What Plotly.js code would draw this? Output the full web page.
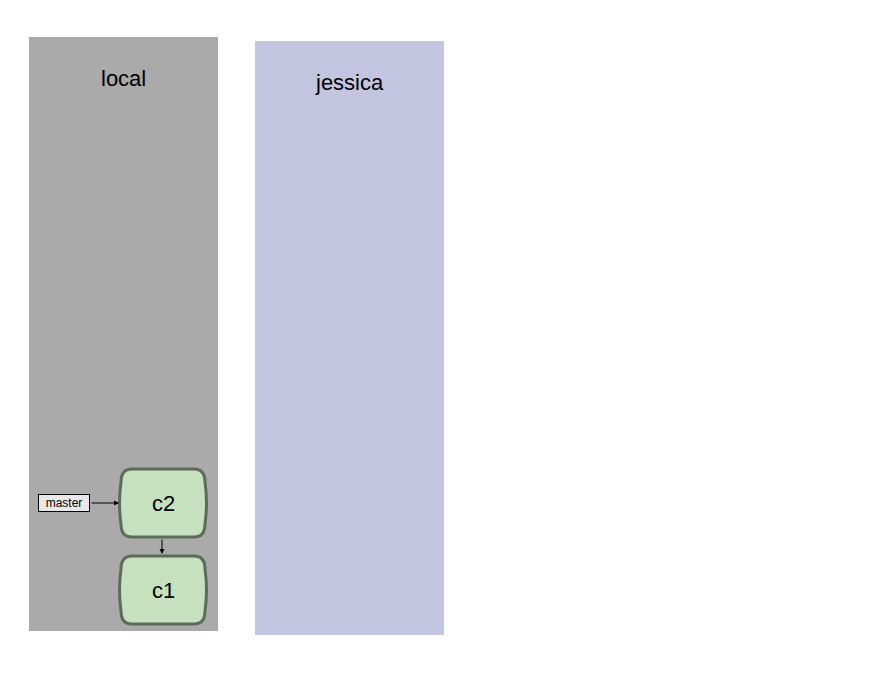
<!DOCTYPE html>
<html>
<head>
<script src="https://cdn.plot.ly/plotly-3.0.1.min.js"></script>
<style>body{margin:0}</style>
</head>
<body>
<div id="plot" style="width:896px;height:686px"></div>
<script>
// repositories (panel boxes, pixel-ish coordinates)
const repoNames = ["local", "jessica"];
const repoX0 = [29, 255];
const repoX1 = [218, 444];
const repoY0 = [37, 41];
const repoY1 = [631, 635];
const repoColors = ["#aaaaaa", "#c4c5e0"];

// commits
const commitNames = ["c2", "c1"];
const commitX = [163, 163];
const commitY = [503, 590];
const parentOf = ["c1", null];

// branches
const branchNames = ["master"];
const branchTarget = ["c2"];
const branchX = [64];

const halfW = 42, halfH = 34;

function nodePath(cx, cy) {
    const l = cx - halfW, r = cx + halfW, t = cy - halfH, b = cy + halfH;
    return `M ${l+11},${t} L ${r-11},${t} Q ${r},${t} ${r},${t+13} ` +
           `Q ${r+3},${cy} ${r},${b-13} Q ${r},${b} ${r-11},${b} ` +
           `L ${l+11},${b} Q ${l},${b} ${l},${b-13} Q ${l-3},${cy} ${l},${t+13} ` +
           `Q ${l},${t} ${l+11},${t} Z`;
}

const shapes = [];
const annotations = [];

repoNames.forEach((name, i) => {
    shapes.push({type: "rect", x0: repoX0[i], x1: repoX1[i], y0: repoY0[i], y1: repoY1[i],
                 fillcolor: repoColors[i], line: {width: 0}, layer: "below"});
    annotations.push({x: (repoX0[i] + repoX1[i]) / 2, y: repoY0[i] + 41, text: name,
                      showarrow: false, font: {size: 22, color: "#000"}});
});

commitNames.forEach((name, i) => {
    shapes.push({type: "path", path: nodePath(commitX[i], commitY[i]),
                 fillcolor: "#c5e1bd", line: {color: "#5d6b5b", width: 3}});
    annotations.push({x: commitX[i], y: commitY[i], text: name, showarrow: false,
                      font: {size: 22, color: "#000"}});
    const p = commitNames.indexOf(parentOf[i]);
    if (p >= 0) {
        annotations.push({x: commitX[p] - 1, y: commitY[p] - halfH - 2, ax: commitX[i] - 1,
                          ay: commitY[i] + halfH + 1, xref: "x", yref: "y", axref: "x", ayref: "y",
                          text: "", showarrow: true, arrowhead: 2, arrowsize: 1, arrowwidth: 1,
                          arrowcolor: "#000"});
    }
});

branchNames.forEach((name, i) => {
    const t = commitNames.indexOf(branchTarget[i]);
    annotations.push({x: branchX[i], y: commitY[t], text: name, showarrow: false,
                      font: {size: 12, color: "#000"}, bgcolor: "#e8e8e8",
                      bordercolor: "#000", borderwidth: 1, borderpad: 1, width: 48});
    annotations.push({x: commitX[t] - halfW - 2, y: commitY[t], ax: branchX[i] + 26, ay: commitY[t],
                      xref: "x", yref: "y", axref: "x", ayref: "y", text: "", showarrow: true,
                      arrowhead: 2, arrowsize: 1, arrowwidth: 1, arrowcolor: "#000"});
});

const layout = {
    width: 896, height: 686,
    margin: {l: 0, r: 0, t: 0, b: 0},
    font: {family: "Liberation Sans, Arial, sans-serif"},
    xaxis: {range: [0, 896], visible: false, fixedrange: true},
    yaxis: {range: [686, 0], visible: false, fixedrange: true},
    paper_bgcolor: "#fff", plot_bgcolor: "#fff",
    showlegend: false,
    shapes: shapes,
    annotations: annotations
};

Plotly.newPlot("plot", [{x: commitX, y: commitY, mode: "markers", marker: {opacity: 0}, hoverinfo: "skip"}],
               layout, {staticPlot: true});
</script>
</body>
</html>
